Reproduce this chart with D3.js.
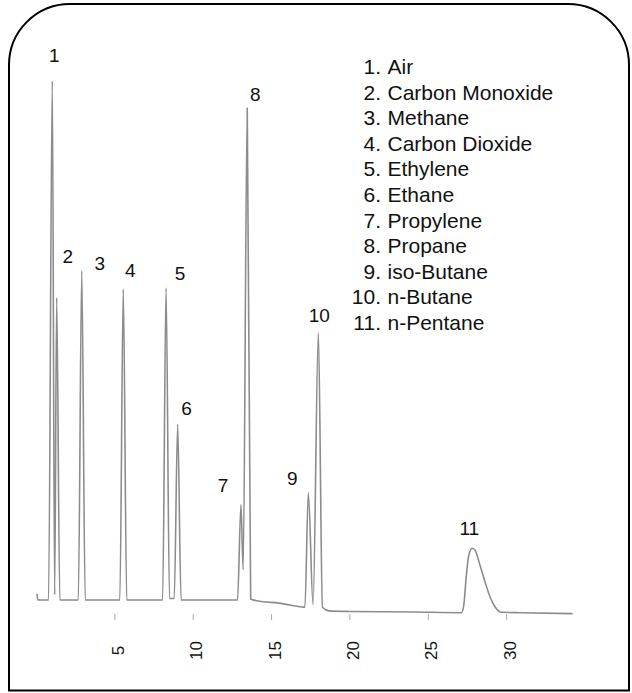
<!DOCTYPE html>
<html>
<head>
<meta charset="utf-8">
<script src="https://cdn.jsdelivr.net/npm/d3@7"></script>
<style>
  html, body { margin: 0; padding: 0; background: #fff; }
  svg { display: block; }
  text { font-family: "Liberation Sans", Arial, Helvetica, sans-serif; }
</style>
</head>
<body>
<svg id="chart" width="632" height="693"></svg>
<script>
// Peak identities (numbered in elution order)
const peakNumbers = ["1", "2", "3", "4", "5", "6", "7", "8", "9", "10", "11"];
const compounds = ["Air", "Carbon Monoxide", "Methane", "Carbon Dioxide", "Ethylene",
  "Ethane", "Propylene", "Propane", "iso-Butane", "n-Butane", "n-Pentane"];

// Retention time (min) and apex signal (% of full scale) of each peak
const peakTimes   = [1.04, 1.32, 2.92, 5.57, 8.30, 9.04, 13.08, 13.48, 17.38, 18.02, 27.84];
const peakHeights = [99.8, 58.1, 63.3, 59.8, 60.0, 33.8, 18.3, 94.6, 20.6, 51.4, 9.94];

// Baseline, peak feet and valley points of the trace: [time (min), signal]
const tracePoints = [
  [0.06, 1.2], [0.12, 0], [0.80, 0], [1.19, 1.0], [1.52, 0],
  [2.70, 0], [3.14, 0], [5.35, 0], [5.79, 0],
  [8.08, 0], [8.52, 0.3], [8.82, 0.3], [9.26, 0],
  [12.86, 0], [13.22, 5.8], [13.70, 0.2], [14.2, -0.2], [15.5, -0.6],
  [17.0, -1.35], [17.16, -1.4], [17.68, -0.9], [18.28, -1.4], [18.7, -2.1],
  [20.0, -2.2], [24.0, -2.3],
  [27.15, -2.44], [27.3, -1.0], [27.45, 4.3], [27.62, 8.6],
  [28.01, 9.62], [28.33, 6.73], [28.65, 3.52], [28.97, 0.63], [29.29, -1.29], [29.72, -2.37],
  [31.0, -2.45], [34.25, -2.63]
];

// Time axis ticks
const tickValues = [5, 10, 15, 20, 25, 30];

// Peak number placement relative to each apex (px)
const labelDx = [2, 11, 18, 7, 14, 9, -18, 8, -16, 1, -3];
const labelDy = [-26, -42, -7, -19, -15, -16, -19, -14, -15, -17, -20];

const svg = d3.select("#chart");

const x = d3.scaleLinear().domain([0, 34.25]).range([36, 572.7]);
const y = d3.scaleLinear().domain([0, 100]).range([600, 80]);

// Frame: rounded top corners, square bottom corners
const L = 9, R = 629, T = 4, B = 690.5, r = 61;
svg.append("path")
  .attr("d", `M${L},${B} V${T + r} A${r},${r} 0 0 1 ${L + r},${T} H${R - r} A${r},${r} 0 0 1 ${R},${T + r} V${B} Z`)
  .attr("fill", "none")
  .attr("stroke", "#000")
  .attr("stroke-width", 2);

// Chromatogram trace
const points = peakTimes.map((t, i) => [t, peakHeights[i]])
  .concat(tracePoints)
  .sort((a, b) => a[0] - b[0]);

const line = d3.line()
  .x(d => x(d[0]))
  .y(d => y(d[1]))
  .curve(d3.curveMonotoneX);

svg.append("path")
  .datum(points)
  .attr("d", line)
  .attr("fill", "none")
  .attr("stroke", "#8c8c8c")
  .attr("stroke-width", 1.6)
  .attr("stroke-linejoin", "round");

// Time axis with vertical labels
const axis = svg.append("g")
  .attr("transform", "translate(0,614)")
  .call(d3.axisBottom(x).tickValues(tickValues).tickSize(6).tickFormat(d3.format("d")));
axis.select(".domain").remove();
axis.selectAll(".tick line").attr("stroke", "#aaa").attr("stroke-width", 1);
axis.selectAll(".tick text")
  .attr("x", 0).attr("y", 0).attr("dy", "0.35em")
  .attr("transform", "translate(3,36.5) rotate(-90)")
  .attr("text-anchor", "middle")
  .attr("fill", "#111")
  .style("font-size", "17px")
  .style("font-family", "\"Liberation Sans\", Arial, sans-serif");

// Peak numbers
svg.append("g").selectAll("text")
  .data(peakNumbers)
  .join("text")
  .attr("x", (d, i) => x(peakTimes[i]) + labelDx[i])
  .attr("y", (d, i) => y(peakHeights[i]) + labelDy[i])
  .attr("dy", "0.35em")
  .attr("text-anchor", "middle")
  .attr("fill", "#111")
  .style("font-size", "19px")
  .text(d => d);

// Compound list
const legend = svg.append("g").style("font-size", "21px").attr("fill", "#111");
legend.selectAll("text.num")
  .data(peakNumbers)
  .join("text")
  .attr("class", "num")
  .attr("x", 381)
  .attr("y", (d, i) => 74 + i * 25.6)
  .attr("text-anchor", "end")
  .text(d => d + ".");
legend.selectAll("text.name")
  .data(compounds)
  .join("text")
  .attr("class", "name")
  .attr("x", 387.5)
  .attr("y", (d, i) => 74 + i * 25.6)
  .text(d => d);
</script>
</body>
</html>
